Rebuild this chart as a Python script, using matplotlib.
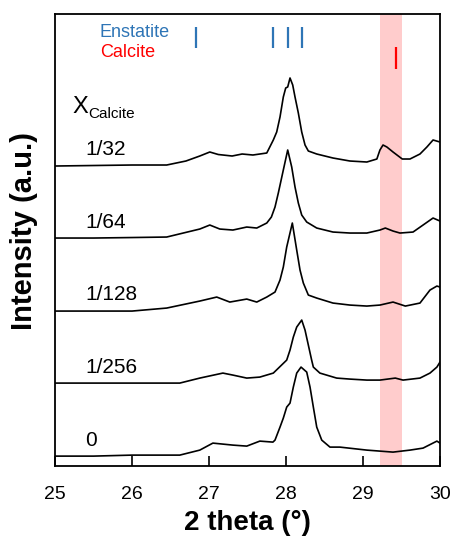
import matplotlib
matplotlib.use('Agg')
import matplotlib.pyplot as plt

plt.rcParams['font.family'] = ['Liberation Sans', 'DejaVu Sans']

# XRD scans, 2 theta (deg) and stacked intensity (a.u.)
tt_1_32 = [25.00, 25.50, 26.00, 26.45, 26.70, 26.88, 27.01, 27.12, 27.30, 27.43, 27.57, 27.75,
           27.835, 27.879, 27.922, 27.965, 27.996, 28.022, 28.052, 28.087, 28.117, 28.160,
           28.204, 28.247, 28.290, 28.399, 28.61, 28.83, 29.05, 29.18, 29.22, 29.26, 29.31,
           29.39, 29.51, 29.61, 29.74, 29.83, 29.91, 30.00]
int_1_32 = [300, 300.5, 301, 301, 305, 310, 314, 311.5, 310, 312, 311, 313,
            326, 334, 349, 369, 378, 379, 388, 381, 369, 353,
            334, 321, 315, 312, 308, 305, 304, 307, 316, 321, 319,
            314, 307, 307, 312, 319, 326, 324]

tt_1_64 = [25.00, 25.50, 26.00, 26.45, 26.88, 27.01, 27.14, 27.31, 27.49, 27.62, 27.75, 27.81,
           27.857, 27.90, 27.965, 28.022, 28.074, 28.117, 28.16, 28.204, 28.269, 28.399,
           28.61, 28.83, 29.05, 29.22, 29.29, 29.39, 29.48, 29.65, 29.78, 29.91, 30.00]
int_1_64 = [228, 228, 228.5, 229, 237, 241, 237, 236, 239, 238, 243, 249,
            259, 273, 296, 316, 299, 279, 263, 251, 244, 238,
            234, 233, 233, 236, 238, 235, 233, 234, 241, 248, 245]

tt_1_128 = [25.00, 25.50, 26.00, 26.45, 26.88, 27.10, 27.27, 27.49, 27.62, 27.75, 27.857,
            27.922, 27.965, 28.009, 28.082, 28.139, 28.182, 28.225, 28.29, 28.399, 28.61,
            28.83, 29.05, 29.22, 29.39, 29.55, 29.74, 29.87, 29.96, 30.00]
int_1_128 = [155, 155, 155, 158, 165, 169, 164, 167, 164, 169, 174,
             186, 199, 219, 243, 216, 196, 183, 171, 168, 163,
             161, 160, 161, 164, 160, 163, 176, 180, 179]

tt_1_256 = [25.00, 25.50, 26.00, 26.62, 26.88, 27.18, 27.31, 27.49, 27.66, 27.835, 28.009,
            28.052, 28.095, 28.139, 28.204, 28.247, 28.29, 28.333, 28.355, 28.44, 28.658,
            28.83, 29.05, 29.22, 29.42, 29.52, 29.74, 29.87, 29.96, 30.00]
int_1_256 = [83, 83, 83, 83, 88, 93, 91, 88, 89, 93, 106,
             116, 129, 139, 146, 136, 121, 106, 99, 93, 88,
             87, 86, 86, 88, 86, 88, 93, 99, 104]

tt_0 = [25.00, 25.50, 26.00, 26.62, 26.88, 27.05, 27.31, 27.49, 27.66, 27.83, 27.857, 27.922,
        27.965, 28.009, 28.052, 28.095, 28.139, 28.195, 28.269, 28.312, 28.355, 28.399,
        28.464, 28.571, 28.70, 29.05, 29.39, 29.61, 29.78, 29.96, 30.00]
int_0 = [10, 10, 11, 11, 16, 23, 21, 20, 25, 24, 26, 39,
         48, 59, 63, 79, 93, 99, 94, 79, 59, 39,
         26, 19, 19, 16, 14, 16, 18, 25, 23]

curves = [(tt_1_32, int_1_32), (tt_1_64, int_1_64), (tt_1_128, int_1_128),
          (tt_1_256, int_1_256), (tt_0, int_0)]
labels = ['1/32', '1/64', '1/128', '1/256', '0']
label_y = [317, 244, 172, 99, 26]

enstatite_pos = [26.83, 27.83, 28.03, 28.21]
calcite_pos = [29.43]
band = (29.22, 29.51)

fig = plt.figure(figsize=(4.55, 5.37), dpi=100)
ax = fig.add_axes([0.121, 0.132, 0.846, 0.842])

ax.axvspan(*band, color='#ffcccc', lw=0, zorder=0)
for (x, y) in curves:
    ax.plot(x, y, color='black', lw=1.2)

for lab, y in zip(labels, label_y):
    ax.text(25.39, y, lab, fontsize=15, va='center', ha='left')

ax.vlines(enstatite_pos, 418, 439, color='#2e75b6', lw=1.6)
ax.vlines(calcite_pos, 397, 419, color='#ff0000', lw=1.6)
ax.text(25.58, 433, 'Enstatite', color='#2e75b6', fontsize=13, va='center')
ax.text(25.58, 413, 'Calcite', color='#ff0000', fontsize=13, va='center')
ax.text(25.22, 353, 'X', fontsize=17, va='baseline')
ax.text(25.43, 348, 'Calcite', fontsize=11, va='baseline')

ax.set_xlim(25, 30)
ax.set_ylim(0, 452)
ax.set_xticks([25, 26, 27, 28, 29, 30])
ax.set_yticks([])
ax.tick_params(axis='x', direction='in', length=7, width=1.2, labelsize=14, pad=14)
for s in ax.spines.values():
    s.set_linewidth(1.3)
ax.set_xlabel('2 theta (°)', fontsize=20, fontweight='bold', labelpad=5)
ax.set_ylabel('Intensity (a.u.)', fontsize=21, fontweight='bold')
ax.yaxis.set_label_coords(-0.045, 0.52)

fig.savefig('out.png', dpi=100)
